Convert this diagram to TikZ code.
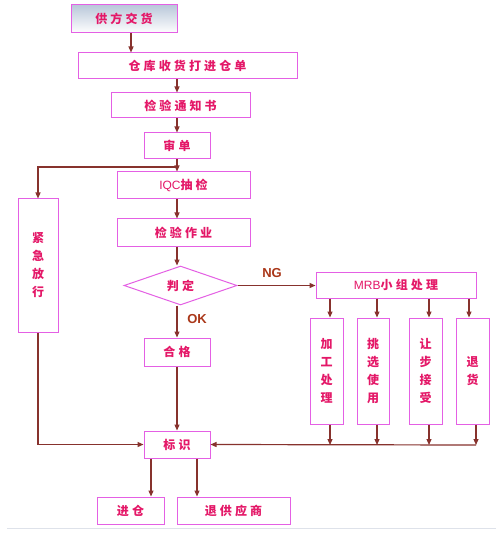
\documentclass[tikz,border=0pt]{standalone}
\usepackage{fontspec}
\newfontfamily\cjk{Noto Sans CJK SC}[LetterSpace=26]
\newfontfamily\cjkv{Noto Sans CJK SC}
\newfontfamily\lat{Liberation Sans}
\usetikzlibrary{arrows.meta,shapes.geometric}
\definecolor{boxc}{RGB}{228,96,228}
\definecolor{txtc}{RGB}{228,24,104}
\definecolor{linec}{RGB}{135,50,45}
\definecolor{lblc}{RGB}{170,55,25}
\definecolor{topc}{RGB}{186,200,218}
\begin{document}
\begin{tikzpicture}[x=1pt,y=-1pt,
  box/.style={draw=boxc, line width=1pt, fill=white, inner sep=0pt, text=txtc,
    font=\cjk\bfseries\fontsize{12}{14}\selectfont},
  vbox/.style={draw=boxc, line width=1pt, fill=white, inner sep=0pt, text=txtc,
    align=center, font=\cjkv\bfseries\fontsize{12}{18}\selectfont},
  arr/.style={draw=linec, line width=1.2pt, -{Triangle[length=6pt,width=5pt]}},
  lbl/.style={text=lblc, font=\lat\bfseries\fontsize{13}{15}\selectfont, inner sep=0pt}]
\useasboundingbox (0,0) rectangle (496,534);
\fill[white] (0,0) rectangle (496,534);
\draw[color={rgb,255:red,222;green,226;blue,234}, line width=0.8pt] (7,528) -- (496,528);

\node[box, minimum width=106, minimum height=28, top color=topc, bottom color=white] (a) at (124,19) {供方交货};
\node[box, minimum width=219, minimum height=26] (b) at (187.5,66) {仓库收货打进仓单};
\node[box, minimum width=139, minimum height=25] (c) at (180.5,105.5) {检验通知书};
\node[box, minimum width=66, minimum height=26] (d) at (177,146) {审单};
\node[box, minimum width=133, minimum height=27] (e) at (183.5,185.5) {{\lat\mdseries IQC}抽检};
\node[box, minimum width=133, minimum height=27] (f) at (183.5,232.5) {检验作业};
\node[box, diamond, aspect=2.9, minimum width=113, minimum height=39] (g) at (180.5,285.5) {判定};
\node[box, minimum width=66, minimum height=28] (h) at (177,352) {合格};
\node[box, minimum width=66, minimum height=27] (i) at (177,444.5) {标识};
\node[vbox, minimum width=40, minimum height=133] (j) at (38,265.5) {紧\\急\\放\\行};
\node[box, minimum width=160, minimum height=26] (k) at (396,285) {{\lat\mdseries MRB}小组处理};
\node[vbox, minimum width=33, minimum height=106] (l1) at (326.5,371) {加\\工\\处\\理};
\node[vbox, minimum width=32, minimum height=106] (l2) at (373,371) {挑\\选\\使\\用};
\node[vbox, minimum width=33, minimum height=106] (l3) at (425.5,371) {让\\步\\接\\受};
\node[vbox, minimum width=33, minimum height=106] (l4) at (472.5,371) {退\\货};
\node[box, minimum width=67, minimum height=27] (m) at (130.5,510.5) {进仓};
\node[box, minimum width=113, minimum height=27] (n) at (233.5,510.5) {退供应商};

\node[lbl] (ng) at (272,273) {NG};
\node[lbl] (ok) at (197,319) {OK};

\coordinate (x1) at (131,0);
\coordinate (mx) at (177,0);
\coordinate (br) at (177,167);
\coordinate (bus) at (476,445);
\coordinate (q1) at (330,0);
\coordinate (q2) at (377,0);
\coordinate (q3) at (429,0);
\coordinate (q4) at (469,0);
\coordinate (q5) at (476,0);
\coordinate (y1) at (0,445);
\coordinate (s1) at (151,0);
\coordinate (s2) at (197,0);

\draw[arr] (a.south -| x1) -- (b.north -| x1);
\draw[arr] (b.south -| mx) -- (c.north -| mx);
\draw[arr] (c.south -| mx) -- (d.north -| mx);
\draw[arr] (d.south -| mx) -- (e.north -| mx);
\draw[arr] (br) -| (j.north);
\draw[arr] (e.south -| mx) -- (f.north -| mx);
\draw[arr] (f.south -| mx) -- (g.north -| mx);
\draw[arr] (g.south -| mx) -- (h.north -| mx);
\draw[arr] (g.east) -- (k.west |- g.east);
\draw[arr] (h.south -| mx) -- (i.north -| mx);
\draw[arr] (j.south) |- (i.west);

\draw[arr] (k.south -| q1) -- (l1.north -| q1);
\draw[arr] (k.south -| q2) -- (l2.north -| q2);
\draw[arr] (k.south -| q3) -- (l3.north -| q3);
\draw[arr] (k.south -| q4) -- (l4.north -| q4);
\draw[arr] (l1.south -| q1) -- (q1 |- y1);
\draw[arr] (l2.south -| q2) -- (q2 |- y1);
\draw[arr] (l3.south -| q3) -- (q3 |- y1);
\draw[arr] (l4.south -| q5) -- (q5 |- y1);
\draw[arr] (bus) -- (i.east);

\draw[arr] (i.south -| s1) -- (m.north -| s1);
\draw[arr] (i.south -| s2) -- (n.north -| s2);
\end{tikzpicture}
\end{document}
